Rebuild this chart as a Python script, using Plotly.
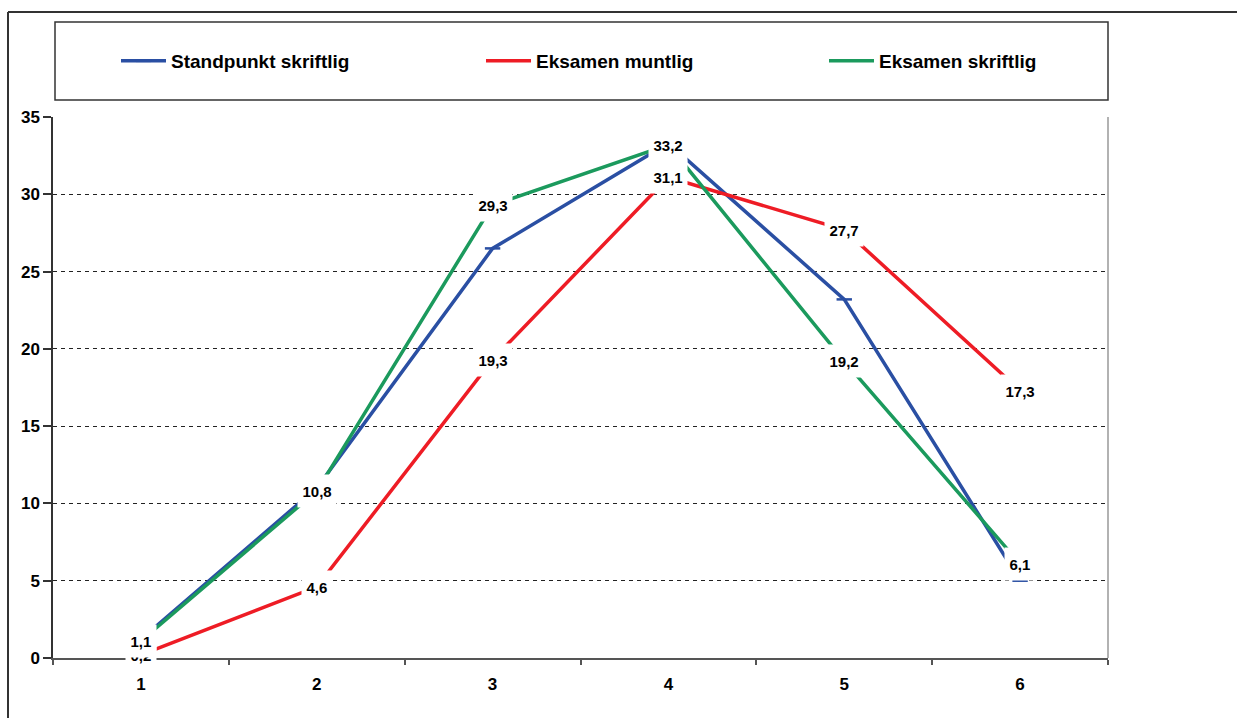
import plotly.graph_objects as go

# Karakterfordeling (prosent) for karakter 1-6
categories = ["1", "2", "3", "4", "5", "6"]
standpunkt_skriftlig = [1.2, 11.0, 26.5, 33.3, 23.2, 5.0]
eksamen_muntlig = [0.2, 4.6, 19.3, 31.1, 27.7, 17.3]
eksamen_skriftlig = [1.1, 10.8, 29.3, 33.2, 19.2, 6.1]

series_names = ["Standpunkt skriftlig", "Eksamen muntlig", "Eksamen skriftlig"]
y_ticks = [0, 5, 10, 15, 20, 25, 30, 35]

BLUE = "#2a4fa3"
RED = "#ee1c25"
GREEN = "#1b9a5d"
FONT = "Liberation Sans, Arial, sans-serif"

# plot area in pixels
L, R, T, B = 53, 1108, 117, 658
W, H = 1237, 718
PW, PH = R - L, B - T


def px(xp):
    return (xp - L) / PW


def py(yp):
    return (B - yp) / PH


fig = go.Figure()

fig.add_trace(go.Scatter(
    x=categories, y=standpunkt_skriftlig, name=series_names[0],
    mode="lines+markers", line=dict(color=BLUE, width=3.5),
    marker=dict(symbol="line-ew", size=11, line=dict(color=BLUE, width=2.5)),
    legend="legend",
))
fig.add_trace(go.Scatter(
    x=categories, y=eksamen_muntlig, name=series_names[1],
    mode="lines", line=dict(color=RED, width=3.5),
    legend="legend2",
))
fig.add_trace(go.Scatter(
    x=categories, y=eksamen_skriftlig, name=series_names[2],
    mode="lines", line=dict(color=GREEN, width=3.5),
    legend="legend3",
))


def label_width(txt, size=15):
    w = 0
    for ch in txt:
        w += 0.278 if ch == "," else 0.556
    return w * size + 7


def fmt(v):
    return f"{v:.1f}".replace(".", ",")


annotations = []
# red labels first so the green ones sit on top
for series in (eksamen_muntlig, eksamen_skriftlig):
    for i, v in enumerate(series):
        t = fmt(v)
        annotations.append(dict(
            x=i, y=v, xref="x", yref="y", text=t, showarrow=False,
            bgcolor="white", width=label_width(t), height=30,
            font=dict(family=FONT, size=15, color="black", weight="bold"),
            xanchor="center", yanchor="middle",
        ))

shapes = [
    # outer chart frame (top and left)
    dict(type="line", xref="paper", yref="paper", x0=px(8), x1=px(W + 5), y0=py(12), y1=py(12),
         line=dict(color="#333333", width=2)),
    dict(type="line", xref="paper", yref="paper", x0=px(8), x1=px(8), y0=py(12), y1=py(H + 5),
         line=dict(color="#333333", width=2)),
    # legend box
    dict(type="rect", xref="paper", yref="paper", x0=px(55), x1=px(1108), y0=py(100), y1=py(22),
         line=dict(color="#333333", width=1.5), fillcolor="white", layer="below"),
    # plot area right border
    dict(type="line", xref="paper", yref="paper", x0=1, x1=1, y0=0, y1=1,
         line=dict(color="#999999", width=1.5)),
]

legend_common = dict(
    orientation="h", yanchor="middle", xanchor="left",
    bgcolor="rgba(0,0,0,0)", borderwidth=0, itemwidth=45,
    font=dict(family=FONT, size=19, color="black", weight="bold"),
)

fig.update_layout(
    width=W, height=H,
    margin=dict(l=L, r=W - R, t=T, b=H - B, pad=0),
    paper_bgcolor="white", plot_bgcolor="white",
    showlegend=True,
    legend=dict(x=px(116), y=py(61), **legend_common),
    legend2=dict(x=px(481), y=py(61), **legend_common),
    legend3=dict(x=px(824), y=py(61), **legend_common),
    xaxis=dict(
        type="category", range=[-0.5, 5.5],
        showgrid=False, showline=True, linecolor="#555555", linewidth=2,
        ticks="outside", ticklen=5, tickcolor="#555555", tickwidth=1.5,
        tickson="boundaries", ticklabelstandoff=10,
        tickfont=dict(family=FONT, size=17, color="black", weight="bold"),
        zeroline=False,
    ),
    yaxis=dict(
        range=[0, 35], tickvals=y_ticks,
        showgrid=True, gridcolor="#222222", gridwidth=1, griddash="4px,4px",
        showline=True, linecolor="#333333", linewidth=1.5,
        ticks="outside", ticklen=8, tickcolor="#333333", tickwidth=1.5,
        tickfont=dict(family=FONT, size=17, color="black", weight="bold"),
        zeroline=False,
    ),
    annotations=annotations,
    shapes=shapes,
)

fig.write_html("out.html")
